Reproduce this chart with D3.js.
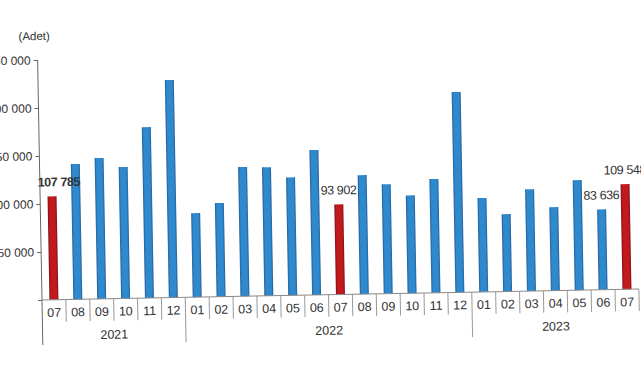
<!DOCTYPE html>
<html>
<head>
<meta charset="utf-8">
<script src="https://cdn.jsdelivr.net/npm/d3@7"></script>
<style>
  html, body { margin: 0; padding: 0; background: #fff; }
  svg { display: block; font-family: "Liberation Sans", Arial, sans-serif; }
</style>
</head>
<body>
<svg id="chart" width="641" height="380"></svg>
<script>
// monthly counts, 07/2021 .. 07/2023
var months = ["07","08","09","10","11","12",
              "01","02","03","04","05","06","07","08","09","10","11","12",
              "01","02","03","04","05","06","07"];
var years = ["2021","2022","2023"];
var yearCounts = [6, 12, 7];
var values = [107785, 141000, 146800, 137000, 178000, 226700,
              87600, 97600, 134700, 134000, 123000, 151000, 93902, 124000, 114000, 102000, 118500, 208700,
              97800, 80600, 106000, 87000, 114700, 83636, 109548];
var highlighted = [0, 12, 24];      // same month, each year
var labelled = [0, 12, 23, 24];     // bars with a value written above
var yTicks = [0, 50000, 100000, 150000, 200000, 250000];

var svg = d3.select("#chart");
var x0 = 42, y0 = 300;           // origin of the axes
var plotW = 597, plotH = 240;

// the source picture is a scan that sits a little crooked, so tilt it the same way
var g = svg.append("g")
    .attr("transform", "translate(" + x0 + "," + y0 + ") rotate(-1.05)");

var keys = months.map((m, i) => i);
var x = d3.scaleBand().domain(keys).range([0, plotW]).padding(0);
var y = d3.scaleLinear().domain([0, 250000]).range([0, -plotH]);
var barW = 9;

var defs = svg.append("defs");
function grad(id, edge, mid) {
    var lg = defs.append("linearGradient").attr("id", id)
        .attr("x1", "0%").attr("x2", "100%").attr("y1", "0%").attr("y2", "0%");
    lg.append("stop").attr("offset", "0%").attr("stop-color", edge);
    lg.append("stop").attr("offset", "20%").attr("stop-color", mid);
    lg.append("stop").attr("offset", "80%").attr("stop-color", mid);
    lg.append("stop").attr("offset", "100%").attr("stop-color", edge);
}
grad("blueGrad", "#1f5d94", "#2f89cf");
grad("redGrad", "#7c1013", "#c1191d");

// bars
g.selectAll("rect.bar").data(values).enter().append("rect")
    .attr("class", "bar")
    .attr("x", (d, i) => x(i) + x.bandwidth() / 2 - barW / 2)
    .attr("y", d => y(d))
    .attr("width", barW)
    .attr("height", d => -y(d))
    .attr("fill", (d, i) => highlighted.indexOf(i) >= 0 ? "url(#redGrad)" : "url(#blueGrad)");

// value labels
var fmt = v => d3.format(",")(v).replace(/,/g, " ");
g.selectAll("text.val").data(labelled).enter().append("text")
    .attr("class", "val")
    .attr("x", i => x(i) + x.bandwidth() / 2 + (i === 0 ? 7 : 0))
    .attr("y", i => y(values[i]) - 10)
    .attr("text-anchor", "middle")
    .attr("font-size", 12.5)
    .attr("letter-spacing", -0.4)
    .attr("font-weight", i => i === 0 ? "bold" : "normal")
    .attr("fill", "#333")
    .text(i => fmt(values[i]));

// y axis
var yAxis = d3.axisLeft(y).tickValues(yTicks).tickSize(4).tickPadding(3)
    .tickFormat(v => v === 0 ? "" : fmt(v));
var ya = g.append("g").call(yAxis);
ya.select(".domain").remove();
ya.selectAll(".tick line").attr("stroke", "#666");
ya.selectAll(".tick text").attr("font-size", 12).attr("fill", "#333")
    .attr("font-family", "Liberation Sans, Arial, sans-serif");
g.append("line").attr("x1", 0).attr("x2", 0).attr("y1", -plotH).attr("y2", 45)
    .attr("stroke", "#666");

g.append("text").attr("x", -3).attr("y", -plotH - 20)
    .attr("text-anchor", "middle").attr("font-size", 11.5).attr("fill", "#333")
    .text("(Adet)");

// x axis: baseline, month separators, year separators
g.append("line").attr("x1", 0).attr("x2", plotW).attr("y1", 0).attr("y2", 0)
    .attr("stroke", "#888");

var yearStarts = [0];
yearCounts.forEach((c, i) => yearStarts.push(yearStarts[i] + c));

g.selectAll("line.sep").data(keys.slice(1).concat([keys.length])).enter().append("line")
    .attr("class", "sep")
    .attr("x1", i => i < keys.length ? x(i) : plotW)
    .attr("x2", i => i < keys.length ? x(i) : plotW)
    .attr("y1", 0)
    .attr("y2", i => yearStarts.indexOf(i) > 0 && i < keys.length ? 45 : 22)
    .attr("stroke", "#999");

g.selectAll("text.month").data(months).enter().append("text")
    .attr("class", "month")
    .attr("x", (d, i) => x(i) + x.bandwidth() / 2)
    .attr("y", 17)
    .attr("text-anchor", "middle")
    .attr("font-size", 12.5)
    .attr("fill", "#333")
    .text(d => d);

g.selectAll("text.year").data(years).enter().append("text")
    .attr("class", "year")
    .attr("x", (d, i) => {
        var a = x(yearStarts[i]);
        var b = yearStarts[i + 1] < keys.length ? x(yearStarts[i + 1]) : plotW;
        return (a + b) / 2;
    })
    .attr("y", 40)
    .attr("text-anchor", "middle")
    .attr("font-size", 12.5)
    .attr("fill", "#333")
    .text(d => d);
</script>
</body>
</html>
